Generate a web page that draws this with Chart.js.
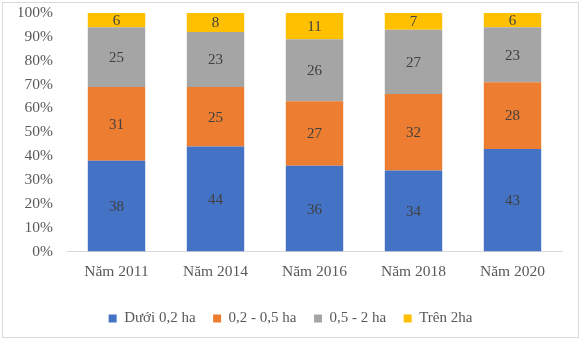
<!DOCTYPE html>
<html>
<head>
<meta charset="utf-8">
<script src="https://cdn.jsdelivr.net/npm/chart.js@4"></script>
<style>
  html, body { margin: 0; padding: 0; background: #fff; }
  #wrap { width: 581px; height: 341px; }
</style>
</head>
<body>
<div id="wrap"><canvas id="farmChart" width="581" height="341"></canvas></div>
<script>
const years = ['Năm 2011', 'Năm 2014', 'Năm 2016', 'Năm 2018', 'Năm 2020'];
const under02 = [38, 44, 36, 34, 43];
const from02to05 = [31, 25, 27, 32, 28];
const from05to2 = [25, 23, 26, 27, 23];
const over2 = [6, 8, 11, 7, 6];
const seriesNames = ['Dưới 0,2 ha', '0,2 - 0,5 ha', '0,5 - 2 ha', 'Trên 2ha'];
const colors = ['#4472c4', '#ed7d31', '#a5a5a5', '#ffc000'];

const FONT = '"Liberation Serif", "Times New Roman", serif';

// writes each segment's value in the middle of its bar
const barLabels = {
  id: 'barLabels',
  afterDatasetsDraw(chart) {
    const ctx = chart.ctx;
    ctx.save();
    ctx.font = '15px ' + FONT;
    ctx.fillStyle = '#404040';
    ctx.textAlign = 'center';
    ctx.textBaseline = 'middle';
    chart.data.datasets.forEach((ds, i) => {
      chart.getDatasetMeta(i).data.forEach((bar, j) => {
        const mid = (bar.y + bar.base) / 2;
        ctx.fillText(String(ds.data[j]), bar.x, mid + 1);
      });
    });
    ctx.restore();
  }
};

// light frame around the whole chart
const frame = {
  id: 'frame',
  beforeDraw(chart) {
    const ctx = chart.ctx;
    ctx.save();
    ctx.fillStyle = '#fff';
    ctx.fillRect(0, 0, chart.width, chart.height);
    ctx.strokeStyle = '#d9d9d9';
    ctx.lineWidth = 1;
    ctx.strokeRect(2.5, 2.5, chart.width - 5, chart.height - 6);
    ctx.restore();
  }
};

new Chart(document.getElementById('farmChart'), {
  type: 'bar',
  data: {
    labels: years,
    datasets: [under02, from02to05, from05to2, over2].map((d, i) => ({
      label: seriesNames[i],
      data: d,
      backgroundColor: colors[i],
      categoryPercentage: 0.58,
      barPercentage: 1.0
    }))
  },
  options: {
    responsive: false,
    animation: false,
    layout: { padding: { left: 19, right: 19, top: 13, bottom: 5 } },
    plugins: {
      legend: {
        position: 'bottom',
        labels: {
          boxWidth: 8,
          boxHeight: 8,
          padding: 17.5,
          color: '#595959',
          font: { family: FONT, size: 15 }
        }
      },
      tooltip: { enabled: false }
    },
    scales: {
      x: {
        stacked: true,
        grid: { display: false, drawTicks: false },
        border: { color: '#d9d9d9' },
        afterFit(scale) { scale.height = 42; scale.paddingLeft = 0; scale.paddingRight = 0; },
        ticks: { color: '#595959', font: { family: FONT, size: 15.5 }, padding: 11 }
      },
      y: {
        stacked: true,
        min: 0,
        max: 100,
        grid: { display: false, drawTicks: false },
        border: { display: false },
        afterFit(scale) { scale.width = 48; scale.paddingTop = 0; scale.paddingBottom = 0; },
        ticks: {
          stepSize: 10,
          color: '#595959',
          padding: 14,
          font: { family: FONT, size: 15.5 },
          callback: v => v + '%'
        }
      }
    }
  },
  plugins: [frame, barLabels]
});
</script>
</body>
</html>
